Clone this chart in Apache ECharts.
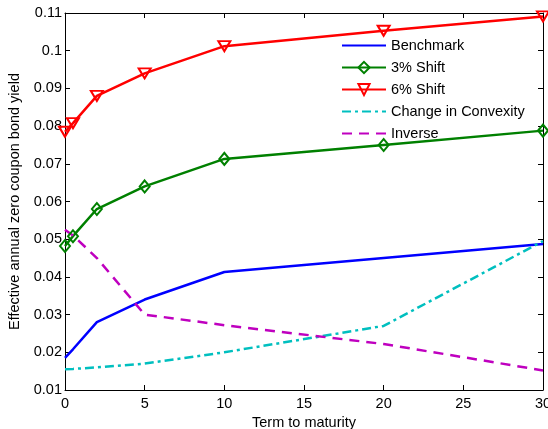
<!DOCTYPE html>
<html><head><meta charset="utf-8">
<script src="https://cdn.jsdelivr.net/npm/echarts@6/dist/echarts.min.js"></script>
<style>html,body{margin:0;padding:0;background:#fff}#c{width:548px;height:429px}</style>
</head><body><div id="c"></div>
<script>
const terms = [0, 0.5, 2, 5, 10, 20, 30];
const benchmark = [0.0185, 0.0208, 0.028, 0.034, 0.0413, 0.045, 0.0487];
const shift3 = [0.0482, 0.0508, 0.058, 0.064, 0.0713, 0.075, 0.0788];
const shift6 = [0.0785, 0.0808, 0.088, 0.094, 0.1012, 0.1053, 0.1091];
const convexity = [0.0155, 0.0156, 0.016, 0.017, 0.020, 0.027, 0.0495];
const inverse = [0.0525, 0.051, 0.045, 0.030, 0.0272, 0.0222, 0.0152];
const names = ['Benchmark', '3% Shift', '6% Shift', 'Change in Convexity', 'Inverse'];
const xTitle = 'Term to maturity';
const yTitle = 'Effective annual zero coupon bond yield';

const pair = arr => terms.map((t, i) => [t, arr[i]]);
const font = 'Liberation Sans, Arial, Helvetica, sans-serif';
const fs = 14.5;

const chart = echarts.init(document.getElementById('c'), null, {renderer: 'canvas'});
const fmt = v => String(parseFloat(v.toFixed(3)));
const baseAxis = {
  axisLine: {show: true, onZero: false, lineStyle: {color: '#000', width: 1}},
  axisTick: {show: true, inside: true, length: 5, lineStyle: {color: '#000'}},
  splitLine: {show: false}
};
const hidden = {opacity: 0, color: 'transparent', borderWidth: 0};
chart.setOption({
  animation: false,
  grid: {left: 65, right: 5, top: 13, bottom: 39, containLabel: false, outerBoundsMode: 'none'},
  legend: {
    left: 341, top: 38, orient: 'vertical', padding: 0,
    itemWidth: 44, itemHeight: 14, itemGap: 7,
    textStyle: {fontFamily: font, fontSize: fs, color: '#000'},
    data: [
      {name: names[0], itemStyle: hidden},
      {name: names[1]},
      {name: names[2]},
      {name: names[3], itemStyle: hidden},
      {name: names[4], itemStyle: hidden}
    ]
  },
  xAxis: [
    Object.assign({}, baseAxis, {type: 'value', min: 0, max: 30, interval: 5,
      name: xTitle, nameLocation: 'middle', nameGap: 21,
      nameTextStyle: {fontFamily: font, fontSize: fs, color: '#000'},
      axisLabel: {fontFamily: font, fontSize: fs, color: '#000', margin: 6}}),
    Object.assign({}, baseAxis, {type: 'value', min: 0, max: 30, interval: 5, position: 'top',
      axisLabel: {show: false}})
  ],
  yAxis: [
    Object.assign({}, baseAxis, {type: 'value', min: 0.01, max: 0.11, interval: 0.01,
      name: yTitle, nameLocation: 'middle', nameGap: 37,
      nameTextStyle: {fontFamily: font, fontSize: fs, color: '#000'},
      axisLabel: {fontFamily: font, fontSize: fs, color: '#000', margin: 3, formatter: fmt}}),
    Object.assign({}, baseAxis, {type: 'value', min: 0.01, max: 0.11, interval: 0.01, position: 'right',
      axisLabel: {show: false}})
  ],
  series: [
    {name: names[0], type: 'line', data: pair(benchmark), showSymbol: false, symbol: 'none',
      lineStyle: {color: '#0000ff', width: 2.5}, itemStyle: {color: '#0000ff'}},
    {name: names[1], type: 'line', data: pair(shift3), symbol: 'diamond', symbolSize: [10, 12],
      lineStyle: {color: '#008000', width: 2.5},
      itemStyle: {color: 'rgba(255,255,255,0)', borderColor: '#008000', borderWidth: 2}},
    {name: names[2], type: 'line', data: pair(shift6), symbol: 'triangle', symbolRotate: 180, symbolSize: [12, 10],
      lineStyle: {color: '#ff0000', width: 2.5},
      itemStyle: {color: 'rgba(255,255,255,0)', borderColor: '#ff0000', borderWidth: 2}},
    {name: names[3], type: 'line', data: pair(convexity), symbol: 'none',
      lineStyle: {color: '#00bfbf', width: 2.5, type: [9, 4, 3, 4]}, itemStyle: {color: '#00bfbf'}},
    {name: names[4], type: 'line', data: pair(inverse), symbol: 'none',
      lineStyle: {color: '#bf00bf', width: 2.5, type: [10, 7]}, itemStyle: {color: '#bf00bf'}}
  ]
});
</script></body></html>
